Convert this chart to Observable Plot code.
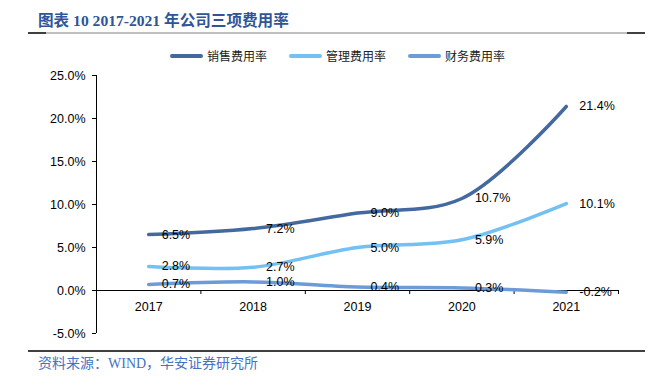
<!DOCTYPE html>
<html>
<head>
<meta charset="utf-8">
<script src="https://cdn.jsdelivr.net/npm/d3@7"></script>
<script src="https://cdn.jsdelivr.net/npm/@observablehq/plot@0.6"></script>
<style>
  html, body { margin: 0; padding: 0; background: #fff; }
  #wrap { position: relative; width: 655px; height: 389px; overflow: hidden; }
  #title { position: absolute; left: 38px; top: 8px; font: bold 15.6px "Liberation Serif", "Noto Sans CJK SC", serif; color: #2F5597; white-space: nowrap; }
  .hline { position: absolute; height: 2px; }
  #legend { position: absolute; top: 47px; left: 0; width: 655px; height: 16px; font: 12px "Noto Sans CJK SC", sans-serif; color: #222; }
  .lg { position: absolute; top: 0; display: flex; align-items: center; white-space: nowrap; }
  .sw { width: 33px; height: 4px; border-radius: 2px; margin-right: 4px; }
  #footer { position: absolute; left: 38px; top: 352px; font: 14px "Liberation Serif", "Noto Sans CJK SC", serif; color: #4472C4; white-space: nowrap; }
  #chart { position: absolute; left: 0; top: 0; }
</style>
</head>
<body>
<div id="wrap">
  <div id="chart"></div>
  <div id="title">图表 10 2017-2021 年公司三项费用率</div>
  <div class="hline" style="left:28px; top:32px; width:617px; background:#BFBFBF;"></div>
  <div class="hline" style="left:28px; top:32px; width:18px; background:#404040;"></div>
  <div class="hline" style="left:627px; top:32px; width:18px; background:#404040;"></div>
  <div id="legend"></div>
  <div class="hline" style="left:28px; top:350px; width:617px; background:#404040;"></div>
  <div id="footer">资料来源：WIND，华安证券研究所</div>
</div>
<script>
const years = [2017, 2018, 2019, 2020, 2021];
const seriesNames = ["销售费用率", "管理费用率", "财务费用率"];
const sales = [6.5, 7.2, 9.0, 10.7, 21.4];
const admin = [2.8, 2.7, 5.0, 5.9, 10.1];
const finance = [0.7, 1.0, 0.4, 0.3, -0.2];
const colors = ["#44699E", "#72C1F2", "#6C9BD8"];
const yTicks = [-5, 0, 5, 10, 15, 20, 25];

const allSeries = [sales, admin, finance];
const data = [];
seriesNames.forEach((name, i) => {
  years.forEach((yr, j) => data.push({series: name, year: yr, value: allSeries[i][j]}));
});
const boundaries = [years[0] - 0.5, ...years.map(y => y + 0.5)];
const fmt = d => d.toFixed(1) + "%";

const plot = Plot.plot({
  width: 655,
  height: 389,
  marginLeft: 96,
  marginRight: 37,
  marginTop: 75,
  marginBottom: 56,
  style: {fontFamily: "'Liberation Sans', Arial, sans-serif", fontSize: "12.5px", color: "#000", background: "transparent"},
  x: {type: "linear", domain: [years[0] - 0.5, years[years.length - 1] + 0.5], axis: null},
  y: {domain: [yTicks[0], yTicks[yTicks.length - 1]], axis: null},
  color: {domain: seriesNames, range: colors},
  marks: [
    Plot.axisY({ticks: yTicks, tickFormat: fmt, tickSize: 4, tickPadding: 7, stroke: "#000", fill: "#000", fontSize: 12.5, label: null}),
    Plot.ruleX([boundaries[0]], {stroke: "#000", strokeWidth: 1}),
    Plot.ruleY([0], {stroke: "#000", strokeWidth: 1}),
    Plot.ruleX(boundaries, {x: d => d, y1: 0, y2: -0.47, stroke: "#000"}),
    Plot.text(years, {x: d => d, y: 0, dy: 16, text: d => String(d), fill: "#000", fontSize: 12.5}),
    Plot.line(data, {x: "year", y: "value", z: "series", stroke: "series", curve: "catmull-rom", strokeWidth: 3.5, strokeLinecap: "round"}),
    Plot.text(data, {x: "year", y: "value", text: d => fmt(d.value), textAnchor: "start", dx: 13, fill: "#000", fontSize: 12.5})
  ]
});
document.getElementById("chart").appendChild(plot);

const legendX = [170, 289, 408];
const legend = document.getElementById("legend");
seriesNames.forEach((name, i) => {
  const item = document.createElement("div");
  item.className = "lg";
  item.style.left = legendX[i] + "px";
  item.innerHTML = `<div class="sw" style="background:${colors[i]}"></div><span>${name}</span>`;
  legend.appendChild(item);
});
</script>
</body>
</html>
